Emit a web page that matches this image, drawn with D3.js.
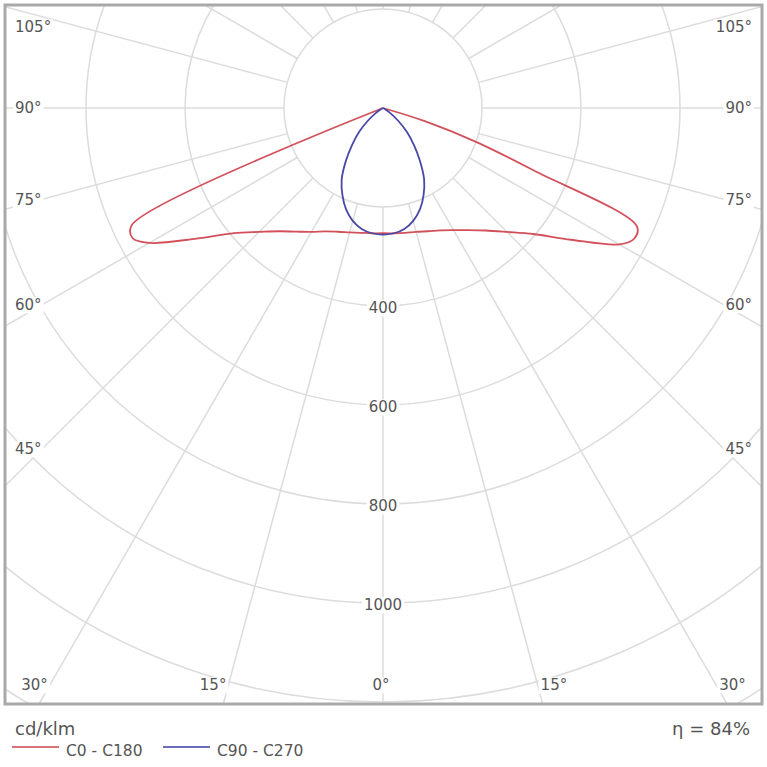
<!DOCTYPE html>
<html><head><meta charset="utf-8">
<script src="https://cdn.jsdelivr.net/npm/d3@7"></script>
<style>html,body{margin:0;padding:0;background:#fff;} svg{display:block;font-family:"DejaVu Sans",Verdana,sans-serif;}</style>
</head><body><svg id="chart" width="767" height="767"></svg>
<script>
// Polar angles (degrees from nadir) at which intensities are given
const angles = [0,5,10,15,20,25,30,35,40,45,50,55,60,62.5,65,67.5,70,72.5,75,80,85,90,95,100,105,110,115,120,125,130,135,140,145,150,155,160,165,170,175,180];
// C0 - C180 plane (cd/klm)
const c0   = [253,254,256,259,265,273,285,301,323,354,396,464,551,572,566,330,200,90,0,0,0,0,0,0,0,0,0,0,0,0,0,0,0,0,0,0,0,0,0,0];
const c180 = [253,254,256,260,266,275,289,305,325,354,393,460,545,570,560,0,0,0,0,0,0,0,0,0,0,0,0,0,0,0,0,0,0,0,0,0,0,0,0,0];
// C90 - C270 plane (cd/klm)
const c90  = [256,254,248,236,218,194,166,130,97,68,40,18,5,2,0,0,0,0,0,0,0,0,0,0,0,0,0,0,0,0,0,0,0,0,0,0,0,0,0,0];
const c270 = [256,254,248,236,218,194,167,131,97,68,40,18,5,2,0,0,0,0,0,0,0,0,0,0,0,0,0,0,0,0,0,0,0,0,0,0,0,0,0,0];
// grid & labels
const gridValues = [200,400,600,800,1000,1200,1400];
const ringLabelValues = [400,600,800,1000];
const angleLabelValues = [0,15,30,45,60,75,90,105];
const unitLabel = "cd/klm";
const seriesNames = ["C0 - C180","C90 - C270"];
const seriesColors = ["#d2505a","#4848a8"];
const efficiencyLabel = "η = 84%";

const svg = d3.select('#chart');
const cx = 383, cy = 108;
const frame = {x0:5, y0:5, x1:762, y1:704};
const rScale = d3.scaleLinear().domain([0,200]).range([0,99]);
const rad = d => d*Math.PI/180;

svg.append('defs').append('clipPath').attr('id','clip').append('rect')
  .attr('x',frame.x0).attr('y',frame.y0).attr('width',frame.x1-frame.x0).attr('height',frame.y1-frame.y0);

const grid = svg.append('g').attr('clip-path','url(#clip)')
  .attr('stroke','#dcdcdc').attr('stroke-width',1.5).attr('fill','none');
grid.selectAll('circle').data(gridValues).join('circle')
  .attr('cx',cx).attr('cy',cy).attr('r',d=>rScale(d));
const spokes = d3.range(0,360,15);
grid.selectAll('line').data(spokes).join('line')
  .attr('x1',d=>cx+rScale(200)*Math.sin(rad(d)))
  .attr('y1',d=>cy+rScale(200)*Math.cos(rad(d)))
  .attr('x2',d=>cx+rScale(1800)*Math.sin(rad(d)))
  .attr('y2',d=>cy+rScale(1800)*Math.cos(rad(d)));

// curves
function buildPoints(left,right){
  const pts = [];
  for(let i=angles.length-1;i>=0;i--) pts.push({a:Math.PI+rad(angles[i]), v:left[i]});
  for(let i=0;i<angles.length;i++) pts.push({a:Math.PI-rad(angles[i]), v:right[i]});
  return pts;
}
const line = d3.lineRadial().angle(d=>d.a).radius(d=>rScale(d.v)).curve(d3.curveCatmullRom.alpha(0.5));
const curves = svg.append('g').attr('transform',`translate(${cx},${cy})`).attr('fill','none').attr('stroke-width',1.8);
curves.append('path').attr('d',line(buildPoints(c180,c0))).attr('stroke',seriesColors[0]);
curves.append('path').attr('d',line(buildPoints(c270,c90))).attr('stroke',seriesColors[1]);

// labels
const lab = svg.append('g').attr('font-size',15).attr('fill','#555');
function addLabel(x,y,text,anchor){
  const g = lab.append('g');
  const r = g.append('rect').attr('fill','#fff');
  const t = g.append('text').attr('x',x).attr('y',y).attr('text-anchor',anchor).attr('dy','0.36em').text(text);
  const b = t.node().getBBox();
  r.attr('x',b.x-2).attr('y',b.y+1).attr('width',b.width+4).attr('height',b.height-2);
}
ringLabelValues.forEach(v=>addLabel(cx, cy+rScale(v)+2, String(v), 'middle'));
angleLabelValues.forEach(th=>{
  const txt = th+'°';
  if(th===0){ addLabel(cx-2, 685, txt, 'middle'); return; }
  const s = Math.sin(rad(th)), c = Math.cos(rad(th));
  const ySide = cy + (cx-42)*c/s;
  if(ySide <= 690){
    const y = Math.max(ySide, 27);
    addLabel(15, y, txt, 'start');
    addLabel(752, y, txt, 'end');
  } else {
    const dx = (685-cy)*s/c;
    addLabel(cx-dx-2, 685, txt, 'end');
    addLabel(cx+dx+3, 685, txt, 'start');
  }
});

// frame
svg.append('rect').attr('x',frame.x0).attr('y',frame.y0)
  .attr('width',frame.x1-frame.x0).attr('height',frame.y1-frame.y0)
  .attr('fill','none').attr('stroke','#a9a9a9').attr('stroke-width',3);

// legend
svg.append('text').attr('x',15).attr('y',735).attr('font-size',18).attr('fill','#555').text(unitLabel);
svg.append('text').attr('x',750).attr('y',735).attr('font-size',18).attr('fill','#555').attr('text-anchor','end').text(efficiencyLabel);
const legendX = [12,163];
seriesNames.forEach((n,i)=>{
  svg.append('line').attr('x1',legendX[i]).attr('x2',legendX[i]+47).attr('y1',747).attr('y2',747)
    .attr('stroke',seriesColors[i]).attr('stroke-width',1.8).attr('opacity',0.8);
  svg.append('text').attr('x',legendX[i]+54).attr('y',756).attr('font-size',15.5).attr('fill','#555').text(n);
});
</script>
</body></html>
